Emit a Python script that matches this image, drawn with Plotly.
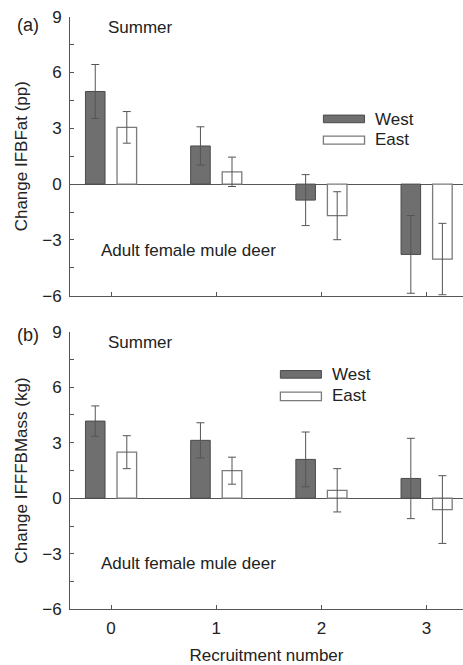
import plotly.graph_objects as go

categories = [0, 1, 2, 3]

# Panel (a): Change IFBFat (pp)
west_a = [4.98, 2.05, -0.86, -3.78]
west_a_err = [1.45, 1.03, 1.37, 2.09]
east_a = [3.05, 0.66, -1.70, -4.03]
east_a_err = [0.85, 0.79, 1.29, 1.92]

# Panel (b): Change IFFFBMass (kg)
west_b = [4.17, 3.13, 2.10, 1.07]
west_b_err = [0.82, 0.95, 1.48, 2.17]
east_b = [2.49, 1.49, 0.43, -0.61]
east_b_err = [0.89, 0.73, 1.17, 1.83]

y_ticks = [-6, -3, 0, 3, 6, 9]
y_ticktext = ["\u22126", "\u22123", "0", "3", "6", "9"]

FONT = "Liberation Sans, Arial, sans-serif"
TXT = "#222222"
AX = "#555555"
WEST_FILL = "#6f6f6f"
WEST_LINE = "#4a4a4a"
EAST_FILL = "#ffffff"
EAST_LINE = "#7a7a7a"

W, H = 463, 665
ML, MR, MT, MB = 70, 0, 10, 10
PW, PH = W - ML - MR, H - MT - MB


def py(p):
    return 1 - (p - MT) / PH


def pxp(p):
    return (p - ML) / PW


fig = go.Figure()


def add_bars(xa, ya, west, werr, east, eerr):
    fig.add_trace(go.Bar(
        x=categories, y=west, name="West", xaxis=xa, yaxis=ya,
        marker=dict(color=WEST_FILL, line=dict(color=WEST_LINE, width=1)),
        error_y=dict(type="data", array=werr, color=AX, thickness=1, width=4),
        showlegend=False))
    fig.add_trace(go.Bar(
        x=categories, y=east, name="East", xaxis=xa, yaxis=ya,
        marker=dict(color=EAST_FILL, line=dict(color=EAST_LINE, width=1.3)),
        error_y=dict(type="data", array=eerr, color=AX, thickness=1, width=4),
        showlegend=False))


add_bars("x", "y", west_a, west_a_err, east_a, east_a_err)
add_bars("x2", "y2", west_b, west_b_err, east_b, east_b_err)

xr = [-0.39, 3.346]
xcommon = dict(range=xr, showline=True, linecolor=AX, linewidth=1,
               ticks="inside", ticklen=4, tickcolor=AX, tickvals=categories,
               showgrid=False, zeroline=False, automargin=False,
               ticklabelstandoff=3,
               tickfont=dict(family=FONT, size=17, color=TXT))
ycommon = dict(range=[-6, 9], showline=True, linecolor=AX, linewidth=1,
               ticks="inside", ticklen=4, tickcolor=AX,
               tickvals=y_ticks, ticktext=y_ticktext,
               minor=dict(dtick=1.5, tick0=0, ticks="inside", ticklen=4, tickcolor=AX),
               showgrid=False, zeroline=True, zerolinecolor=AX, zerolinewidth=1,
               ticklabelstandoff=4, automargin=False,
               tickfont=dict(family=FONT, size=17, color=TXT),
               title_font=dict(family=FONT, size=17, color=TXT))

fig.update_layout(
    width=W, height=H,
    margin=dict(l=ML, r=MR, t=MT, b=MB),
    paper_bgcolor="white", plot_bgcolor="white",
    barmode="group", bargap=0.4, bargroupgap=0.38,
    font=dict(family=FONT, size=17, color=TXT),
    xaxis=dict(domain=[0, 1], anchor="y", showticklabels=False, **xcommon),
    yaxis=dict(domain=[py(295.7), py(16.7)], anchor="x",
               title=dict(text="Change IFBFat (pp)", standoff=10), **ycommon),
    xaxis2=dict(domain=[0, 1], anchor="y2",
                title=dict(text="Recruitment number", standoff=14,
                           font=dict(family=FONT, size=17, color=TXT)),
                **xcommon),
    yaxis2=dict(domain=[py(609.3), py(331.7)], anchor="x2",
                title=dict(text="Change IFFFBMass (kg)", standoff=10), **ycommon),
)

annos = []
shapes = []
for xa, ya, lab, lab_y, sw in [
    ("x", "y", "(a)", 25, dict(x0=2.019, x1=2.41, wy=(3.71, 3.30), ey=(2.58, 2.15), tx=2.49, wt=3.5, et=2.42)),
    ("x2", "y2", "(b)", 335, dict(x0=1.61, x1=2.0, wy=(6.9, 6.49), ey=(5.73, 5.28), tx=2.08, wt=6.71, et=5.55)),
]:
    annos.append(dict(text="Summer", x=-0.045, y=8.4, xref=xa, yref=ya,
                      xanchor="left", yanchor="middle", showarrow=False,
                      font=dict(family=FONT, size=17, color=TXT)))
    annos.append(dict(text="Adult female mule deer", x=-0.115, y=-3.55, xref=xa, yref=ya,
                      xanchor="left", yanchor="middle", showarrow=False,
                      font=dict(family=FONT, size=17, color=TXT)))
    annos.append(dict(text=lab, x=pxp(28), y=py(lab_y), xref="paper", yref="paper",
                      xanchor="center", yanchor="middle", showarrow=False,
                      font=dict(family=FONT, size=18, color=TXT)))
    shapes.append(dict(type="rect", xref=xa, yref=ya, x0=sw["x0"], x1=sw["x1"],
                       y0=sw["wy"][1], y1=sw["wy"][0], fillcolor=WEST_FILL,
                       line=dict(color=WEST_LINE, width=1)))
    shapes.append(dict(type="rect", xref=xa, yref=ya, x0=sw["x0"], x1=sw["x1"],
                       y0=sw["ey"][1], y1=sw["ey"][0], fillcolor=EAST_FILL,
                       line=dict(color=EAST_LINE, width=1.3)))
    annos.append(dict(text="West", x=sw["tx"], y=sw["wt"], xref=xa, yref=ya,
                      xanchor="left", yanchor="middle", showarrow=False,
                      font=dict(family=FONT, size=17, color=TXT)))
    annos.append(dict(text="East", x=sw["tx"], y=sw["et"], xref=xa, yref=ya,
                      xanchor="left", yanchor="middle", showarrow=False,
                      font=dict(family=FONT, size=17, color=TXT)))

fig.update_layout(annotations=annos, shapes=shapes)

fig.write_html("out.html", config={"displayModeBar": False},
               post_script="document.body.style.margin='0';document.body.style.overflow='hidden';")
